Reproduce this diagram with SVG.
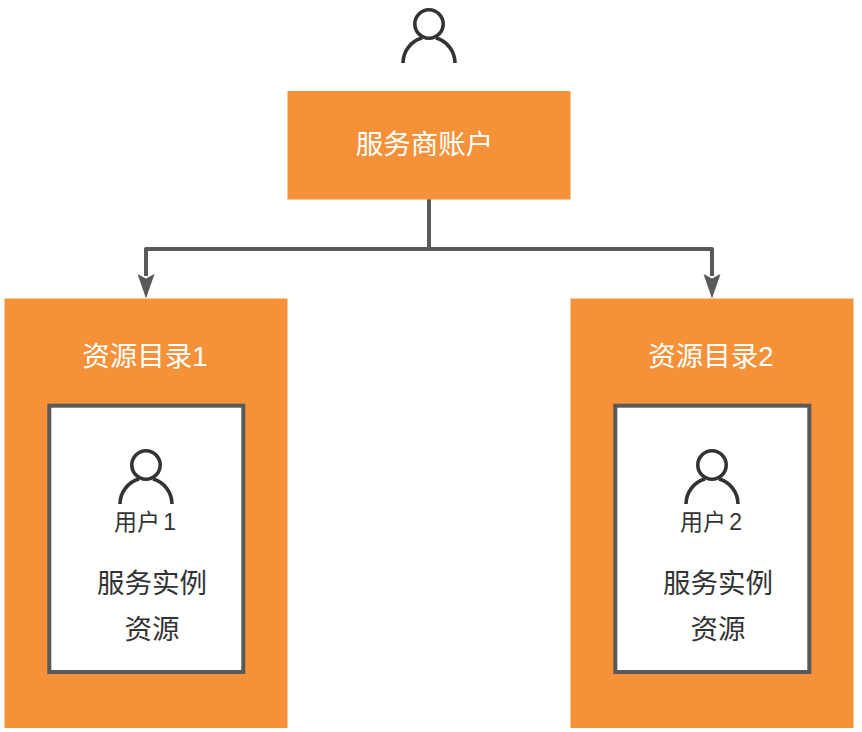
<svg xmlns="http://www.w3.org/2000/svg" width="862" height="732" viewBox="0 0 862 732">
<style>
.o{fill:#f49139}
.w{fill:#fff;stroke:#595959;stroke-width:4}
.u{fill:none;stroke:#333;stroke-width:3.6}
.c{fill:none;stroke:#595959;stroke-width:4;stroke-linejoin:round}
.f{fill:#595959}
text{font-family:"Liberation Sans","Noto Sans CJK SC",sans-serif;text-anchor:middle}
.h{fill:#fff;font-size:27.5px}
.d{fill:#333;font-size:27.5px}
.s{fill:#333;font-size:23px;word-spacing:-3px}
</style>
<defs>
<symbol id="p" overflow="visible"><circle cx="0" cy="-39" r="14.2" class="u"/><path d="M-26 0A26 26 0 0 1 -7 -25M26 0A26 26 0 0 0 7 -25" class="u"/></symbol>
</defs>
<g id="connectors">
<path class="c" d="M429 199V249M429 249H146V276"/>
<path class="c" d="M429 249H712V276"/>
<path class="f" d="M137.500 274L146 278.500L154.500 274L146 298.500Z"/>
<path class="f" d="M703.500 274L712 278.500L720.500 274L712 298.500Z"/>
</g>
<g id="account-user"><use href="#p" x="429" y="63"/></g>
<g id="provider"><rect class="o" x="287.500" y="91" width="283" height="108.500"/><text class="h" x="424.500" y="154">服务商账户</text></g>
<g id="dir1"><rect class="o" x="4.500" y="298.500" width="283" height="429.500"/><text class="h" x="145" y="366">资源目录1</text></g>
<g id="inner1"><rect class="w" x="49.300" y="405.700" width="194" height="266.300"/><use href="#p" x="146" y="504"/><text class="s" x="145" y="530">用户 1</text><text class="d" x="152" y="592.500">服务实例</text><text class="d" x="152" y="639">资源</text></g>
<g id="dir2"><rect class="o" x="570.500" y="298.500" width="283" height="429.500"/><text class="h" x="711" y="366">资源目录2</text></g>
<g id="inner2"><rect class="w" x="615.300" y="405.700" width="194" height="266.300"/><use href="#p" x="712" y="504"/><text class="s" x="711" y="530">用户 2</text><text class="d" x="718" y="592.500">服务实例</text><text class="d" x="718" y="639">资源</text></g>
</svg>
